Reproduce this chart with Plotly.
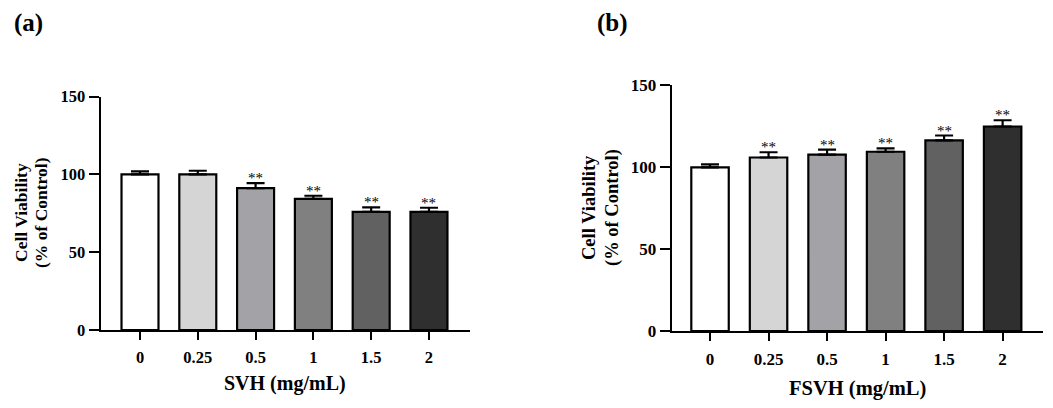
import plotly.graph_objects as go

categories = ["0", "0.25", "0.5", "1", "1.5", "2"]
svh_values = [100, 100, 91.2, 84.3, 76.0, 75.9]
svh_errors = [2.0, 2.4, 3.2, 2.0, 2.8, 2.7]
svh_sig = ["", "", "**", "**", "**", "**"]
fsvh_values = [99.8, 105.8, 107.6, 109.3, 116.2, 124.7]
fsvh_errors = [1.8, 3.2, 3.0, 2.0, 3.0, 3.8]
fsvh_sig = ["", "**", "**", "**", "**", "**"]
bar_colors = ["#ffffff", "#d5d5d5", "#a3a2a7", "#808080", "#616161", "#2f2f2f"]
y_ticks = [0, 50, 100, 150]

FONT = "Liberation Serif"
W, H = 1045, 400   # page body adds an 8px margin
OFF = 8
xs = list(range(len(categories)))


def fx(x):
    return (x - OFF) / W


def fy(y):
    return (H - (y - OFF)) / H


fig = go.Figure()


def add_panel(values, errors, xa, ya):
    fig.add_trace(go.Bar(
        x=xs, y=values, xaxis=xa, yaxis=ya,
        marker=dict(color=bar_colors, line=dict(color="black", width=2.2)),
        width=0.64,
        error_y=dict(type="data", symmetric=False, array=errors,
                     arrayminus=[0] * len(errors), color="black",
                     thickness=2.2, width=9),
        showlegend=False, hoverinfo="skip",
    ))


add_panel(svh_values, svh_errors, "x", "y")
add_panel(fsvh_values, fsvh_errors, "x2", "y2")


def axis_common(size, ticklen, standoff):
    return dict(showline=True, linewidth=2.2, linecolor="black", ticks="outside",
                ticklen=ticklen, tickwidth=2.2, tickcolor="black", showgrid=False,
                zeroline=False, automargin=False, ticklabelstandoff=standoff,
                tickfont=dict(family=FONT, size=size, color="black", weight="bold"))


fig.update_layout(
    width=W, height=H,
    margin=dict(l=0, r=0, t=0, b=0),
    paper_bgcolor="white", plot_bgcolor="white",
    xaxis=dict(domain=[fx(100.7), fx(470)], anchor="y", range=[-0.68, 5.71],
               tickvals=xs, ticktext=categories, **axis_common(16.5, 8, 3)),
    yaxis=dict(domain=[fy(330), fy(96.7)], anchor="x", range=[0, 150],
               tickvals=y_ticks, **axis_common(16.5, 10, 0)),
    xaxis2=dict(domain=[fx(671.7), fx(1043)], anchor="y2", range=[-0.655, 5.69],
                tickvals=xs, ticktext=categories, **axis_common(17, 8, 3)),
    yaxis2=dict(domain=[fy(331), fy(85)], anchor="x2", range=[0, 150],
                tickvals=y_ticks, **axis_common(17, 10, 0)),
)

ann = []
for xa, ya, vals, errs, sig in [("x", "y", svh_values, svh_errors, svh_sig),
                                ("x2", "y2", fsvh_values, fsvh_errors, fsvh_sig)]:
    for i, s in enumerate(sig):
        if s:
            ann.append(dict(x=i, y=vals[i] + errs[i], xref=xa, yref=ya, text=s,
                            showarrow=False, xanchor="center", yanchor="bottom",
                            yshift=-5, font=dict(family=FONT, size=15, color="black")))


def paper_ann(x, y, text, font, angle=0):
    ann.append(dict(x=fx(x), y=fy(y), xref="paper", yref="paper",
                    xanchor="center", yanchor="middle",
                    text=text, showarrow=False, font=font, textangle=angle))


paper_ann(285, 383, "SVH (mg/mL)", dict(family=FONT, size=20, color="black", weight="bold"))
paper_ann(857, 388, "FSVH (mg/mL)", dict(family=FONT, size=20.5, color="black", weight="bold"))

yl_a = dict(family=FONT, size=17.5, color="black", weight="bold")
yl_b = dict(family=FONT, size=18.5, color="black", weight="bold")
paper_ann(21, 213, "Cell Viability", yl_a, -90)
paper_ann(41, 213, "(% of Control)", yl_a, -90)
paper_ann(589, 208, "Cell Viability", yl_b, -90)
paper_ann(612, 208, "(% of Control)", yl_b, -90)

panel_font = dict(family=FONT, size=25, color="black", weight="bold")
paper_ann(28, 23, "(a)", panel_font)
paper_ann(612, 23, "(b)", panel_font)
fig.update_layout(annotations=ann)

fig.write_html("out.html")
